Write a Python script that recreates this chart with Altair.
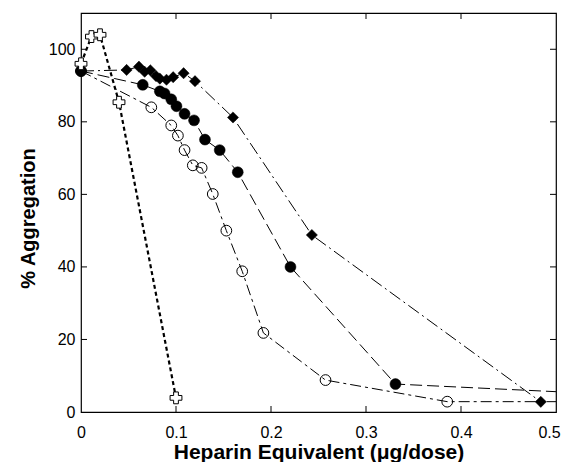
import altair as alt
import pandas as pd

# ---- data ----
x_ticks = [0, 0.1, 0.2, 0.3, 0.4, 0.5]
y_ticks = [0, 20, 40, 60, 80, 100]

cross_x = [0.0, 0.011, 0.020, 0.040, 0.100]
cross_y = [96.0, 103.5, 104.0, 85.4, 3.9]

filled_x = [0.0, 0.065, 0.083, 0.088, 0.095, 0.1005, 0.109, 0.119, 0.1305, 0.146, 0.165, 0.2205, 0.331]
filled_y = [94.0, 90.2, 88.4, 87.8, 86.2, 84.3, 82.2, 80.4, 75.1, 72.2, 66.1, 40.0, 7.7]
filled_tail_x = [0.5]
filled_tail_y = [5.6]

open_x = [0.0, 0.074, 0.095, 0.102, 0.109, 0.1177, 0.127, 0.1387, 0.153, 0.1697, 0.192, 0.2574, 0.3855]
open_y = [94.0, 84.0, 79.0, 76.2, 72.2, 68.0, 67.3, 60.1, 50.0, 38.8, 21.8, 8.8, 2.85]
open_tail_x = [0.5]
open_tail_y = [2.85]

diamond_x = [0.0, 0.048, 0.061, 0.067, 0.073, 0.079, 0.083, 0.090, 0.097, 0.108, 0.120, 0.160, 0.243, 0.484]
diamond_y = [94.0, 94.3, 95.2, 93.8, 94.2, 92.6, 91.9, 91.6, 92.3, 93.4, 91.2, 81.2, 48.8, 2.8]

W, H = 475, 399
xs = alt.Scale(domain=[0, 0.5], nice=False, zero=False)
ys = alt.Scale(domain=[0, 110], nice=False, zero=False)
FONT = "Liberation Sans"


def frame(xv, yv, tx=None, ty=None):
    rows = [{"x": a, "y": b, "o": i, "m": True} for i, (a, b) in enumerate(zip(xv, yv))]
    if tx:
        rows += [{"x": a, "y": b, "o": len(rows) + i, "m": False} for i, (a, b) in enumerate(zip(tx, ty))]
    return pd.DataFrame(rows)


df_cross = frame(cross_x, cross_y)
df_filled = frame(filled_x, filled_y, filled_tail_x, filled_tail_y)
df_open = frame(open_x, open_y, open_tail_x, open_tail_y)
df_diam = frame(diamond_x, diamond_y)

X = alt.X("x:Q", scale=xs, title="Heparin Equivalent (\u03bcg/dose)",
          axis=alt.Axis(values=x_ticks, ticks=False, tickSize=0, domain=False, grid=False,
                        labelExpr="datum.value == 0 ? '0' : format(datum.value, '.1f')",
                        labelOffset={"condition": {"test": "datum.value >= 0.5", "value": -7}, "value": 0},
                        labelFontSize=16, labelFont=FONT, labelColor="black", labelPadding=12,
                        titleFontSize=21, titleFont=FONT, titleFontWeight="bold", titleColor="black",
                        titlePadding=1, labelFlush=False))
Y = alt.Y("y:Q", scale=ys, title="% Aggregation",
          axis=alt.Axis(values=y_ticks, ticks=False, tickSize=0, domain=False, grid=False,
                        labelFontSize=16, labelFont=FONT, labelColor="black", labelPadding=6,
                        titleFontSize=20, titleFont=FONT, titleFontWeight="bold", titleColor="black",
                        titlePadding=10, titleY=205, labelFlush=False))


def line(df, dash, width=1.0):
    return alt.Chart(df).mark_line(color="black", strokeWidth=width, strokeDash=dash, clip=True).encode(
        x=X, y=Y, order="o:Q")


def pts(df, **kw):
    return alt.Chart(df).transform_filter("datum.m").mark_point(opacity=1, clip=False, **kw).encode(x=X, y=Y)


lines = [
    line(df_filled, [12, 5]),
    line(df_open, [11, 4, 3, 4]),
    line(df_diam, [13, 4, 2, 4]),
    line(df_cross, [4, 3], 2.2),
]
points = [
    pts(df_open, shape="circle", filled=False, stroke="black", strokeWidth=1, size=115),
    pts(df_filled, shape="circle", filled=True, fill="black", stroke="black", strokeWidth=0.5, size=120),
    pts(df_diam, shape="diamond", filled=True, fill="black", stroke="black", strokeWidth=0.5, size=125),
    pts(df_cross, shape="cross", filled=True, fill="white", stroke="black", strokeWidth=1, size=140),
]

# inward tick marks on all four sides
dfx = pd.DataFrame({"v": x_ticks[1:-1]})
dfy = pd.DataFrame({"v": y_ticks[1:]})
tk = 6
ticks = [
    alt.Chart(dfx).mark_rule(color="black", strokeWidth=1).encode(
        x=alt.X("v:Q", scale=xs), y=alt.value(H - tk), y2=alt.value(H)),
    alt.Chart(dfx).mark_rule(color="black", strokeWidth=1).encode(
        x=alt.X("v:Q", scale=xs), y=alt.value(0), y2=alt.value(tk)),
    alt.Chart(dfy).mark_rule(color="black", strokeWidth=1).encode(
        y=alt.Y("v:Q", scale=ys), x=alt.value(0), x2=alt.value(tk)),
    alt.Chart(dfy).mark_rule(color="black", strokeWidth=1).encode(
        y=alt.Y("v:Q", scale=ys), x=alt.value(W - tk), x2=alt.value(W)),
]

chart = alt.layer(*ticks, *lines, *points).properties(
    width=W, height=H,
    autosize=alt.AutoSizeParams(type="none"),
    padding={"left": 73, "top": 5, "right": 6, "bottom": 50},
    background="white",
).configure_view(stroke="black", strokeWidth=1.2)

chart.save("out.html", embed_options={"renderer": "svg", "actions": False})
